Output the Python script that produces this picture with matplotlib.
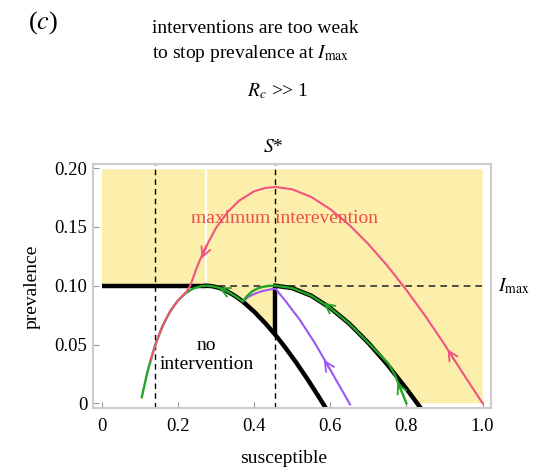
import matplotlib
matplotlib.use("Agg")
import matplotlib.pyplot as plt

plt.rcParams['font.family'] = 'Liberation Serif'
plt.rcParams['mathtext.fontset'] = 'stix'

I_MAX = 0.10
S_STAR = 0.456
S_LOW = 0.14
YELLOW_TOP = 0.199

# trajectory without intervention that peaks exactly at I_max
noint_s = [0.105, 0.12, 0.14, 0.16, 0.18, 0.20, 0.22, 0.24, 0.26, 0.275, 0.29, 0.31,
           0.33, 0.35, 0.37, 0.40, 0.43, 0.456, 0.48, 0.51, 0.54, 0.57, 0.585]
noint_i = [0.0052, 0.027, 0.0493, 0.0661, 0.0785, 0.0874, 0.0936, 0.0976, 0.0996, 0.1, 0.0996, 0.0980,
           0.0951, 0.0913, 0.0866, 0.0780, 0.0679, 0.0581, 0.0482, 0.0349, 0.0206, 0.0054, -0.0024]

# boundary curve that peaks at I_max when S = S*
upper_s = [0.456, 0.50, 0.55, 0.60, 0.65, 0.70, 0.75, 0.80, 0.835]
upper_i = [0.1, 0.098, 0.0915, 0.0811, 0.0677, 0.0514, 0.0329, 0.0123, -0.003]

# green path: starts right, climbs to S*, arcs over, then the no-intervention branch
green_s = [0.80, 0.785, 0.77, 0.752, 0.70, 0.65, 0.60, 0.55, 0.50, 0.456,
           0.44, 0.425, 0.41, 0.395, 0.382, 0.37,
           0.35, 0.33, 0.31, 0.29, 0.275, 0.26, 0.24, 0.22, 0.20, 0.18, 0.16, 0.14, 0.12, 0.105]
green_i = [0.0, 0.012, 0.024, 0.034, 0.0514, 0.0677, 0.0811, 0.0915, 0.098, 0.1,
           0.0999, 0.0992, 0.0978, 0.0952, 0.0914, 0.0866,
           0.0913, 0.0951, 0.0980, 0.0996, 0.1, 0.0996, 0.0976, 0.0936, 0.0874, 0.0785, 0.0661, 0.0493, 0.027, 0.0052]

purple_s = [0.652, 0.60, 0.56, 0.52, 0.48, 0.456, 0.44, 0.42, 0.40, 0.385, 0.37]
purple_i = [-0.001, 0.0285, 0.051, 0.071, 0.088, 0.0975, 0.0967, 0.0953, 0.093, 0.0905, 0.0866]

# maximum intervention trajectory
pink_s = [1.0, 0.95, 0.90, 0.85, 0.80, 0.75, 0.70, 0.65, 0.60, 0.55, 0.50, 0.456, 0.43, 0.40,
          0.36, 0.33, 0.30, 0.27, 0.25, 0.232, 0.222, 0.21, 0.19, 0.17, 0.15, 0.128]
pink_i = [0.0, 0.0247, 0.05, 0.074, 0.0963, 0.1169, 0.1354, 0.1517, 0.1651, 0.1755, 0.182, 0.184, 0.1832, 0.1803,
          0.1722, 0.1625, 0.1491, 0.131, 0.1159, 0.0998, 0.0948, 0.091, 0.0833, 0.0727, 0.0583, 0.0367]

# arrowheads: (tail s, tail i, head s, head i)
pink_arrows = [(0.276, 0.134, 0.262, 0.123), (0.925, 0.037, 0.908, 0.046)]
green_arrows = [(0.787, 0.010, 0.776, 0.018), (0.60, 0.0811, 0.582, 0.0855), (0.325, 0.0958, 0.307, 0.0985)]
purple_arrows = [(0.597, 0.030, 0.583, 0.037)]

PINK = '#f2527f'
GREEN = '#22a524'
PURPLE = '#9b55f5'
YELLOW = '#fcefab'

fig = plt.figure(figsize=(5.38, 4.72), dpi=100)
ax = fig.add_axes([0.1729, 0.1356, 0.7397, 0.5169])

# shaded region: everything above I_max plus the area beyond the boundary curves
k = noint_s.index(0.275)
j = noint_s.index(S_STAR)
poly_s = [0, 1.0, 1.0] + upper_s[::-1] + [S_STAR] + noint_s[j:k:-1] + [0.275, 0]
poly_i = ([YELLOW_TOP, YELLOW_TOP, 0.0] + [max(v, 0.0) for v in upper_i[::-1]]
          + [noint_i[j]] + noint_i[j:k:-1] + [I_MAX, I_MAX])
ax.fill(poly_s, poly_i, color=YELLOW, lw=0, zorder=0)
ax.plot([0.273, 0.273], [I_MAX, YELLOW_TOP], color='white', lw=1.5, zorder=0.5)

ax.plot([0, 1.0], [I_MAX, I_MAX], color='#333333', lw=1.2, ls=(0, (4, 3)), zorder=1)
ax.axvline(S_LOW, color='k', lw=1, ls=(0, (4, 3)), zorder=1)
ax.axvline(S_STAR, color='k', lw=1, ls=(0, (4, 3)), zorder=1)

# thick black boundaries
ax.plot([0, 0.275], [I_MAX, I_MAX], color='k', lw=3.2, solid_capstyle='butt', zorder=2)
ax.plot(noint_s[k:], noint_i[k:], color='k', lw=3.2, zorder=2)
ax.plot(upper_s, upper_i, color='k', lw=3.2, zorder=2)
ax.plot([S_STAR, S_STAR], [noint_i[j], I_MAX], color='k', lw=3.2, solid_capstyle='butt', zorder=2)

ax.plot(purple_s, purple_i, color=PURPLE, lw=1.5, zorder=3)
ax.plot(green_s, green_i, color=GREEN, lw=1.7, zorder=3)
ax.plot(pink_s, pink_i, color=PINK, lw=1.5, zorder=4)

for arrows, c in [(pink_arrows, PINK), (green_arrows, GREEN), (purple_arrows, PURPLE)]:
    for s0, i0, s1, i1 in arrows:
        ax.annotate('', xy=(s1, i1), xytext=(s0, i0),
                    arrowprops=dict(arrowstyle='->', color=c, lw=1.3, mutation_scale=17,
                                    shrinkA=0, shrinkB=0), zorder=5)

ax.text(0.481, 0.157, 'maximum interevention', color='#ee4d4b', fontsize=14,
        ha='center', va='center', zorder=6)
ax.text(0.275, 0.041, 'no\nintervention', fontsize=14, ha='center', va='center',
        linespacing=1.1, zorder=6)

ax.set_xlim(-0.023, 1.022)
ax.set_ylim(-0.004, 0.2035)
ax.set_xticks([0, 0.2, 0.4, 0.6, 0.8, 1.0])
ax.set_xticklabels(['0', '0.2', '0.4', '0.6', '0.8', '1.0'])
ax.set_yticks([0, 0.05, 0.10, 0.15, 0.20])
ax.set_yticklabels(['0', '0.05', '0.10', '0.15', '0.20'])
ax.tick_params(direction='in', length=4, width=0.8, color='#999999', labelsize=13.5)
ax.tick_params(axis='x', pad=7)
ax.tick_params(axis='y', pad=4)
for sp in ax.spines.values():
    sp.set_color('#cccccc')
    sp.set_linewidth(1.5)

ax.set_xlabel('susceptible', fontsize=14, va='center')
ax.xaxis.set_label_coords(0.48, -0.205)
ax.set_ylabel('prevalence', fontsize=14, va='center')
ax.yaxis.set_label_coords(-0.153, 0.496)

fig.text(0.08, 0.953, '($c$)', fontsize=19, ha='center', va='center')
fig.text(0.2825, 0.9294, 'interventions are too weak', fontsize=14, va='baseline')
fig.text(0.2825, 0.8765, r'to stop prevalence at $I_{\mathrm{max}}$', fontsize=14, va='baseline')
fig.text(0.459, 0.795, r'$R_c$ >> 1', fontsize=14, va='baseline')
fig.text(0.4888, 0.678, r'$S$*', fontsize=14, va='baseline')
fig.text(0.9257, 0.382, r'$I_{\mathrm{max}}$', fontsize=14, va='baseline')

fig.savefig('out.png', dpi=100)
